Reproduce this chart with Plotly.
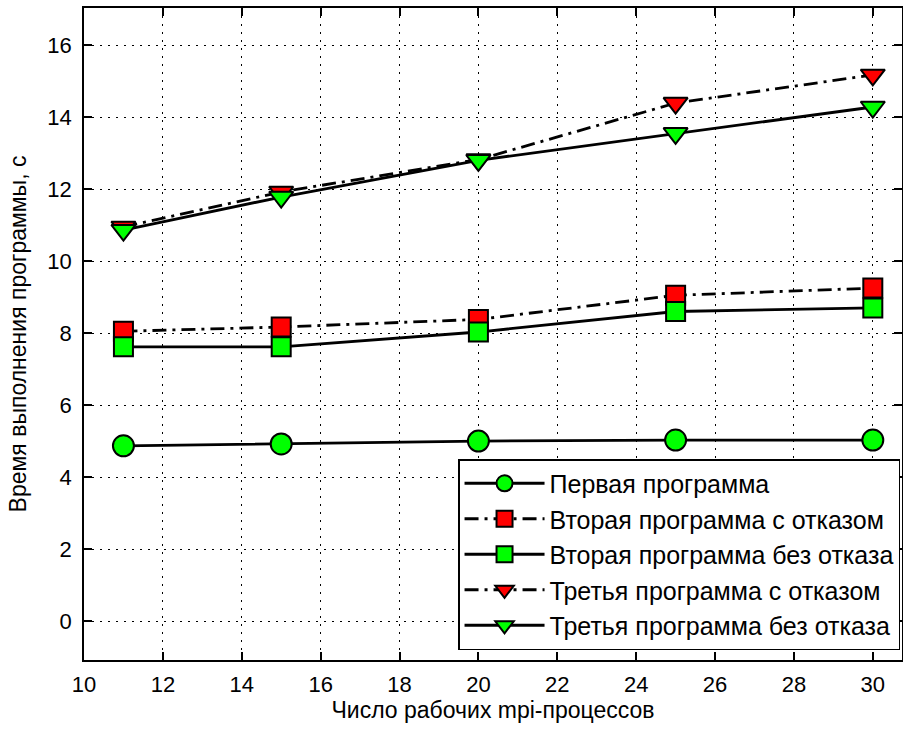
import plotly.graph_objects as go

x_procs = [11, 15, 20, 25, 30]
first_prog = [4.87, 4.92, 5.0, 5.03, 5.03]
second_fail = [8.05, 8.17, 8.38, 9.05, 9.25]
second_ok = [7.62, 7.62, 8.03, 8.6, 8.7]
third_fail = [10.95, 11.92, 12.82, 14.39, 15.17]
third_ok = [10.86, 11.78, 12.8, 13.55, 14.28]

names = ["Первая программа", "Вторая программа с отказом", "Вторая программа без отказа",
         "Третья программа с отказом", "Третья программа без отказа"]
x_ticks = list(range(10, 31, 2))
y_ticks = list(range(0, 17, 2))

FONT = "Liberation Sans, Arial, sans-serif"
GREEN = "#00ff00"
RED = "#ff0000"
DASHDOT = "14px,6px,3px,6px"

series = [
    (first_prog, "circle", GREEN, "solid", 21),
    (second_fail, "square", RED, DASHDOT, 19),
    (second_ok, "square", GREEN, "solid", 19),
    (third_fail, "triangle-down", RED, DASHDOT, 21),
    (third_ok, "triangle-down", GREEN, "solid", 21),
]

fig = go.Figure()
for (vals, sym, col, dash, sz), nm in zip(series, names):
    fig.add_trace(go.Scatter(
        x=x_procs, y=vals, name=nm, mode="lines+markers",
        line=dict(color="black", width=2.8, dash=dash),
        marker=dict(symbol=sym, size=sz, color=col, line=dict(color="black", width=2)),
    ))

axis_common = dict(
    showline=True, linecolor="black", linewidth=1.5, mirror="ticks",
    ticks="inside", ticklen=8, tickcolor="black", tickwidth=1.5,
    showgrid=True, gridcolor="black", griddash="2px,6px", gridwidth=1,
    zeroline=False, tickfont=dict(family=FONT, size=22, color="black"),
    automargin=False,
)

fig.update_xaxes(range=[10, 30.74], tickvals=x_ticks, ticktext=[str(v) for v in x_ticks],
                 title=dict(text="Число рабочих mpi-процессов", font=dict(family=FONT, size=23, color="black"),
                            standoff=4),
                 ticklabelstandoff=4, **axis_common)
fig.update_yaxes(range=[-1.08, 17.03], tickvals=y_ticks, ticktext=[str(v) for v in y_ticks],
                 title=dict(text="Время выполнения программы, с", font=dict(family=FONT, size=23, color="black"),
                            standoff=14),
                 ticklabelstandoff=6, **axis_common)

fig.update_layout(
    width=903, height=729,
    margin=dict(l=84, r=1, t=8, b=69),
    paper_bgcolor="white", plot_bgcolor="white",
    showlegend=True,
    legend=dict(
        x=0.9976, y=0.0153, xanchor="right", yanchor="bottom",
        bgcolor="white", bordercolor="black", borderwidth=1.5,
        font=dict(family=FONT, size=25, color="black"),
        itemwidth=80, tracegroupgap=0,
    ),
)

fig.write_html("out.html", config={"displayModeBar": False},
               post_script="document.body.style.margin='0';document.body.style.padding='0';document.body.style.overflow='hidden';")
